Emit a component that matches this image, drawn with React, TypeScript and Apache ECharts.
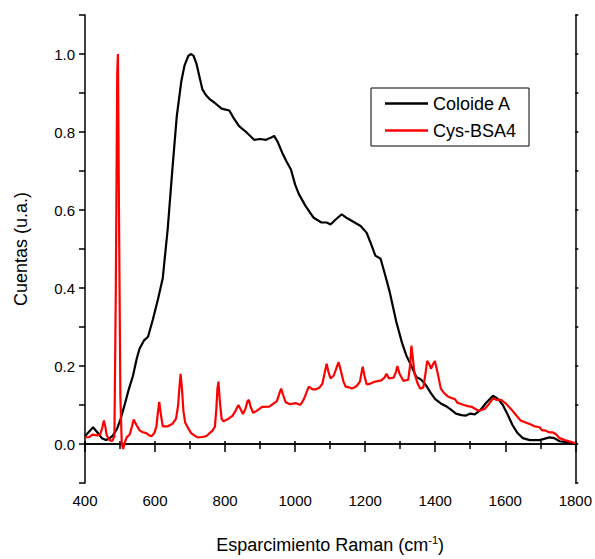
import React, { useEffect, useRef } from "react";
import * as echarts from "echarts";

// Raman shift (cm-1) and normalised counts for each spectrum
const coloideX = [
  400, 410, 423, 435, 448, 460, 470, 480, 492, 502, 513, 525, 537, 548, 556, 568, 580, 594, 608, 622,
  636, 650, 662, 675, 684, 695, 703, 710, 718, 726, 735, 745, 755, 770, 790, 812, 825, 840, 860, 883,
  900, 917, 930, 940, 950, 963, 975, 988, 1000, 1011, 1030, 1053, 1075, 1090, 1101, 1115, 1133, 1150,
  1170, 1187, 1204, 1218, 1229, 1244, 1258, 1270, 1289, 1305, 1318, 1332, 1346, 1360, 1374, 1388,
  1400, 1416, 1431, 1445, 1459, 1475, 1488, 1500, 1513, 1528, 1545, 1565, 1580, 1593, 1607, 1621,
  1635, 1650, 1670, 1698, 1726, 1740, 1755, 1780, 1800,
];
const coloideY = [
  0.02, 0.03, 0.043, 0.03, 0.015, 0.01, 0.014, 0.022, 0.04, 0.065, 0.1, 0.14, 0.175, 0.22, 0.245, 0.265,
  0.275, 0.32, 0.37, 0.425, 0.55, 0.71, 0.84, 0.93, 0.97, 0.995, 1.0, 0.995, 0.976, 0.945, 0.91, 0.895,
  0.885, 0.875, 0.86, 0.855, 0.835, 0.815, 0.8, 0.78, 0.782, 0.78, 0.785, 0.79, 0.775, 0.747, 0.725,
  0.704, 0.665, 0.64, 0.61, 0.58, 0.568, 0.568, 0.563, 0.575, 0.589, 0.578, 0.568, 0.559, 0.542, 0.51,
  0.483, 0.475, 0.43, 0.39, 0.313, 0.26, 0.226, 0.2, 0.172, 0.165, 0.15, 0.13, 0.115, 0.104, 0.097,
  0.088, 0.078, 0.074, 0.073, 0.078, 0.076, 0.086, 0.105, 0.124, 0.115, 0.1, 0.075, 0.048, 0.028,
  0.015, 0.01, 0.01, 0.017, 0.015, 0.007, 0.004, 0.002,
];

const cysX = [
  400, 412, 422, 434, 443, 449, 454, 458, 462, 470, 478, 484, 488, 492, 494, 497, 501, 505, 509, 514,
  519, 528, 534, 539, 546, 556, 565, 575, 583, 590, 598, 604, 608, 612, 616, 622, 635, 650, 660, 666,
  670, 673, 677, 681, 686, 695, 703, 712, 722, 735, 746, 756, 765, 771, 775, 778, 781, 785, 790, 795,
  810, 821, 830, 838, 844, 851, 858, 864, 868, 873, 880, 890, 906, 926, 940, 948, 955, 960, 966, 973,
  985, 1001, 1015, 1025, 1039, 1050, 1058, 1070, 1078, 1085, 1090, 1095, 1101, 1110, 1118, 1124, 1130,
  1138, 1144, 1155, 1162, 1175, 1185, 1190, 1193, 1198, 1204, 1215, 1229, 1246, 1255, 1261, 1268,
  1281, 1288, 1292, 1298, 1309, 1323, 1328, 1332, 1336, 1341, 1350, 1357, 1366, 1372, 1377, 1383,
  1388, 1394, 1399, 1405, 1416, 1426, 1436, 1446, 1456, 1463, 1470, 1482, 1493, 1505, 1522, 1532,
  1541, 1553, 1565, 1576, 1588, 1600, 1616, 1630, 1644, 1658, 1673, 1685, 1698, 1705, 1712, 1725,
  1735, 1745, 1755, 1770, 1785, 1800,
];
const cysY = [
  0.017, 0.018, 0.024, 0.022, 0.024, 0.04, 0.06, 0.045, 0.022, 0.01, 0.008, 0.02, 0.4, 0.95, 1.0, 0.6,
  0.12, 0.0, -0.013, 0.005, 0.017, 0.025, 0.045, 0.063, 0.05, 0.035, 0.03, 0.028, 0.022, 0.02, 0.028,
  0.045, 0.08, 0.108, 0.08, 0.045, 0.045, 0.052, 0.065, 0.1, 0.15, 0.18, 0.14, 0.085, 0.055, 0.04,
  0.028, 0.022, 0.017, 0.018, 0.02, 0.028, 0.035, 0.045, 0.09, 0.14, 0.16, 0.11, 0.065, 0.058, 0.065,
  0.072, 0.085, 0.1, 0.09, 0.077, 0.09, 0.11, 0.113, 0.095, 0.08, 0.085, 0.095, 0.096, 0.105, 0.11,
  0.13, 0.142, 0.125, 0.107, 0.102, 0.105, 0.1, 0.115, 0.147, 0.14, 0.14, 0.145, 0.155, 0.185, 0.206,
  0.185, 0.168, 0.175, 0.195, 0.21, 0.19, 0.16, 0.147, 0.145, 0.142, 0.148, 0.16, 0.185, 0.198, 0.175,
  0.153, 0.155, 0.16, 0.163, 0.17, 0.18, 0.168, 0.17, 0.185, 0.2, 0.18, 0.162, 0.165, 0.2, 0.252, 0.22,
  0.18, 0.155, 0.142, 0.145, 0.18, 0.213, 0.205, 0.193, 0.205, 0.213, 0.19, 0.142, 0.13, 0.122, 0.118,
  0.115, 0.106, 0.104, 0.1, 0.097, 0.095, 0.086, 0.087, 0.09, 0.102, 0.117, 0.113, 0.113, 0.105, 0.09,
  0.075, 0.06, 0.055, 0.05, 0.045, 0.043, 0.035, 0.035, 0.03, 0.03, 0.025, 0.015, 0.01, 0.006, 0.002,
];

const seriesNames = ["Coloide A", "Cys-BSA4"];
const seriesColors = ["#000000", "#ff0000"];

const FONT = 'Arial, "Liberation Sans", sans-serif';

const pairs = (xs: number[], ys: number[]) => xs.map((x, i) => [x, ys[i]]);

export default function App() {
  const ref = useRef<HTMLDivElement>(null);

  useEffect(() => {
    if (!ref.current) return;
    const chart = echarts.init(ref.current, undefined, { renderer: "svg" });
    const axisLine = { show: true, lineStyle: { color: "#000", width: 1.5 } };
    chart.setOption({
      animation: false,
      backgroundColor: "#fff",
      grid: { left: 85, right: 17, top: 15, bottom: 74 },
      legend: {
        left: 371,
        top: 88,
        orient: "vertical",
        data: seriesNames,
        icon: "rect",
        itemWidth: 43,
        itemHeight: 2.5,
        itemGap: 8,
        padding: [6, 13, 6, 14],
        borderColor: "#000",
        borderWidth: 1,
        backgroundColor: "#fff",
        textStyle: { fontFamily: FONT, fontSize: 18, color: "#000", lineHeight: 19 },
      },
      xAxis: [
        {
          type: "value",
          min: 400,
          max: 1800,
          interval: 200,
          position: "bottom",
          axisLine,
          axisTick: { show: true, length: 8, lineStyle: { color: "#000", width: 1.5 } },
          minorTick: { show: true, splitNumber: 2, length: 5, lineStyle: { color: "#000", width: 1.5 } },
          splitLine: { show: false },
          axisLabel: {
            fontFamily: FONT,
            fontSize: 15,
            color: "#000",
            margin: 10,
            formatter: (v: number) => String(v),
          },
          name: "Esparcimiento Raman (cm{sup|-1})",
          nameLocation: "middle",
          nameGap: 51,
          nameTextStyle: {
            fontFamily: FONT,
            fontSize: 18,
            color: "#000",
            rich: { sup: { fontFamily: FONT, fontSize: 11, color: "#000", verticalAlign: "top", lineHeight: 22 } },
          },
        },
        {
          type: "value",
          min: 400,
          max: 1800,
          interval: 100,
          position: "top",
          axisLine,
          axisTick: { show: true, length: 3, lineStyle: { color: "#000", width: 1.5 } },
          axisLabel: { show: false },
          splitLine: { show: false },
        },
      ],
      yAxis: [
        {
          type: "value",
          min: -0.1,
          max: 1.1,
          interval: 0.1,
          position: "left",
          axisLine,
          axisTick: { show: true, length: 6, lineStyle: { color: "#000", width: 1.5 } },
          splitLine: { show: false },
          axisLabel: {
            fontFamily: FONT,
            fontSize: 15,
            color: "#000",
            margin: 10,
            formatter: (v: number) => {
              const k = Math.round(v * 10);
              return k >= 0 && k <= 10 && k % 2 === 0 ? (k / 10).toFixed(1) : "";
            },
          },
          name: "Cuentas (u.a.)",
          nameLocation: "middle",
          nameGap: 55,
          nameTextStyle: { fontFamily: FONT, fontSize: 18, color: "#000" },
        },
        {
          type: "value",
          min: -0.1,
          max: 1.1,
          interval: 0.1,
          position: "right",
          axisLine,
          axisTick: { show: true, length: 3, lineStyle: { color: "#000", width: 1.5 } },
          axisLabel: { show: false },
          splitLine: { show: false },
        },
      ],
      series: [
        {
          name: seriesNames[0],
          type: "line",
          data: pairs(coloideX, coloideY),
          symbol: "none",
          lineStyle: { color: seriesColors[0], width: 2.2 },
          itemStyle: { color: seriesColors[0] },
        },
        {
          name: seriesNames[1],
          type: "line",
          data: pairs(cysX, cysY),
          symbol: "none",
          lineStyle: { color: seriesColors[1], width: 2.2 },
          itemStyle: { color: seriesColors[1] },
        },
      ],
    });
    return () => chart.dispose();
  }, []);

  return (
    <div
      ref={ref}
      style={{ position: "fixed", left: 0, top: 0, width: 595, height: 559 }}
    />
  );
}
